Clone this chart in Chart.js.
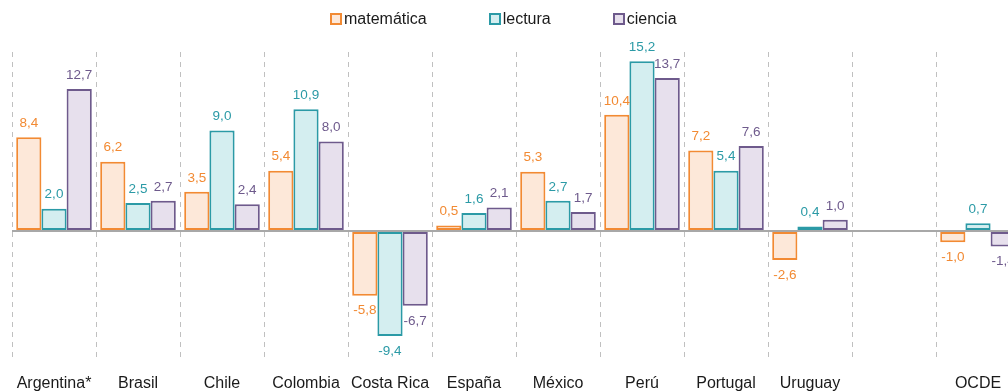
<!DOCTYPE html>
<html>
<head>
<meta charset="utf-8">
<script src="https://cdn.jsdelivr.net/npm/chart.js@4/dist/chart.umd.min.js"></script>
<style>
  html, body { margin: 0; padding: 0; background: #fff; overflow: hidden; }
  #wrap { position: relative; width: 1024px; height: 405px; }
  #legend { position: absolute; left: 330px; top: 10px; display: flex; font: 16px "Liberation Sans", Arial, sans-serif; color: #1a1a1a; }
  #legend .item { display: flex; align-items: center; margin-right: 62px; }
  #legend .box { width: 8px; height: 8px; border: 2px solid; margin-right: 2px; }
  canvas { display: block; }
</style>
</head>
<body>
<div id="wrap">
  <div id="legend"></div>
  <canvas id="chart" width="1024" height="405"></canvas>
</div>
<script>
const categories = ['Argentina*', 'Brasil', 'Chile', 'Colombia', 'Costa Rica', 'España', 'México', 'Perú', 'Portugal', 'Uruguay', '', 'OCDE'];
const seriesNames = ['matemática', 'lectura', 'ciencia'];
const matematica = [8.4, 6.2, 3.5, 5.4, -5.8, 0.5, 5.3, 10.4, 7.2, -2.6, null, -1.0];
const lectura = [2.0, 2.5, 9.0, 10.9, -9.4, 1.6, 2.7, 15.2, 5.4, 0.4, null, 0.7];
const ciencia = [12.7, 2.7, 2.4, 8.0, -6.7, 2.1, 1.7, 13.7, 7.6, 1.0, null, -1.4];

const lineColors = ['#f28a33', '#2b9aa6', '#6e5a8c'];
const fillColors = ['#fde8d9', '#d4eef0', '#e7e0ed'];
const font = '"Liberation Sans", Arial, sans-serif';

const legendEl = document.getElementById('legend');
seriesNames.forEach((name, i) => {
    const item = document.createElement('div');
    item.className = 'item';
    item.innerHTML = `<span class="box" style="border-color:${lineColors[i]};background:${fillColors[i]}"></span>${name}`;
    legendEl.appendChild(item);
});

const valueLabels = {
    id: 'valueLabels',
    afterDatasetsDraw(chart) {
        const ctx = chart.ctx;
        ctx.save();
        ctx.font = '13.5px ' + font;
        ctx.textAlign = 'center';
        ctx.textBaseline = 'middle';
        chart.data.datasets.forEach((ds, di) => {
            const meta = chart.getDatasetMeta(di);
            meta.data.forEach((bar, i) => {
                const v = ds.data[i];
                if (v === null) return;
                ctx.fillStyle = lineColors[di];
                const y = v >= 0 ? bar.y - 14 : bar.y + 15;
                ctx.fillText(v.toFixed(1).replace('.', ','), bar.x, y);
            });
        });
        ctx.restore();
    }
};

const allSeries = [matematica, lectura, ciencia];

new Chart(document.getElementById('chart'), {
    type: 'bar',
    data: {
        labels: categories,
        datasets: allSeries.map((data, i) => ({
            label: seriesNames[i],
            data: data,
            borderColor: lineColors[i],
            backgroundColor: fillColors[i],
            borderWidth: 2,
            borderSkipped: false,
            categoryPercentage: 0.9,
            barPercentage: 1
        }))
    },
    options: {
        responsive: false,
        animation: false,
        layout: { padding: { left: 12, right: 4, top: 52, bottom: 7 } },
        plugins: {
            legend: { display: false },
            tooltip: { enabled: false }
        },
        scales: {
            x: {
                afterFit: scale => { scale.height = 40; },
                grid: { color: '#c0c0c0', lineWidth: 1, drawTicks: false, offset: true },
                border: { display: false, dash: [5, 5] },
                ticks: { color: '#1a1a1a', font: { family: font, size: 16 }, padding: 16, maxRotation: 0, autoSkip: false }
            },
            y: {
                min: -11.37,
                max: 16.02,
                ticks: { display: false, stepSize: 5 },
                border: { display: false },
                grid: {
                    drawTicks: false,
                    lineWidth: 2,
                    color: ctx => ctx.tick && ctx.tick.value === 0 ? '#a8a8a8' : 'rgba(0,0,0,0)'
                }
            }
        }
    },
    plugins: [valueLabels]
});
</script>
</body>
</html>
